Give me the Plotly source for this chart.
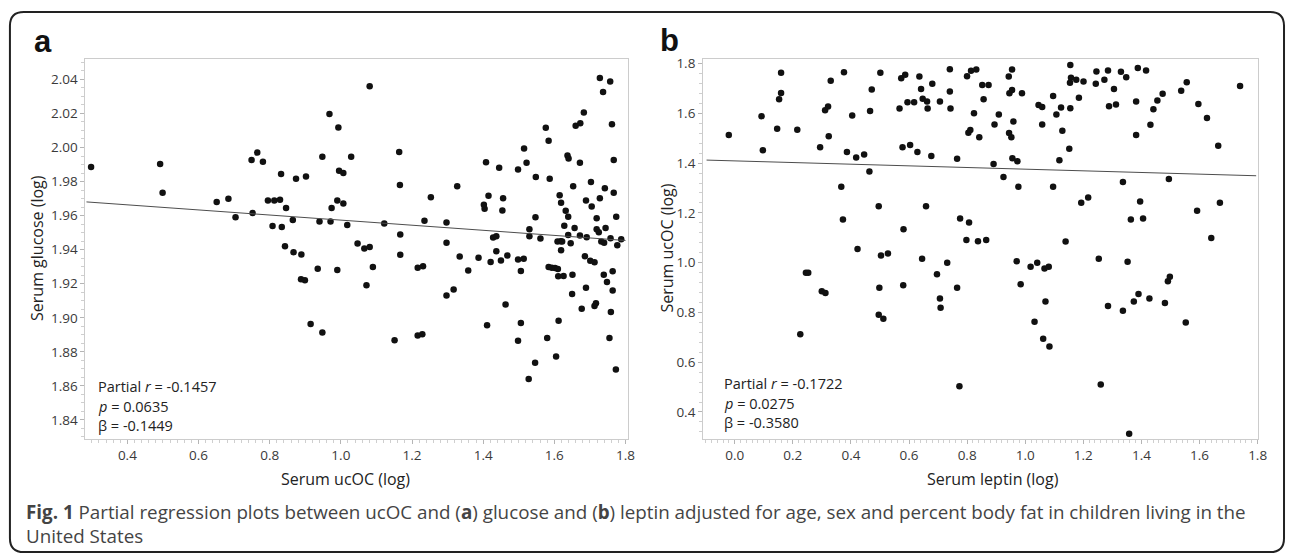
import plotly.graph_objects as go

# ---------------- data ----------------
# Panel a: Serum ucOC (log) vs Serum glucose (log)
A_X = [0.298, 0.492, 0.499, 0.651, 0.684, 0.704, 0.749, 0.765, 0.781, 0.752, 0.795, 0.813, 0.829, 0.832,
       0.846, 0.808, 0.834, 0.865, 0.874, 0.902, 0.843, 0.867, 0.889, 0.888, 0.899, 0.935, 0.990, 0.948,
       0.968, 0.993, 0.995, 1.007, 1.029, 0.990, 1.007, 0.974, 0.940, 0.971, 1.018, 1.047, 1.066, 1.081,
       1.090, 1.081, 1.122,
       1.072, 0.915, 0.948,
       1.164, 1.166, 1.167, 1.167, 1.253, 1.235, 1.216, 1.231, 1.297, 1.297, 1.327, 1.334, 1.297, 1.317,
       1.358, 1.387, 1.408, 1.415, 1.402, 1.404, 1.445, 1.456, 1.454, 1.428, 1.437, 1.437, 1.421, 1.450,
       1.468, 1.463, 1.411, 1.498, 1.515, 1.522, 1.548, 1.547, 1.530, 1.530, 1.561, 1.498, 1.514, 1.506,
       1.576, 1.584, 1.587, 1.615, 1.619, 1.632, 1.639, 1.628, 1.639, 1.618, 1.609, 1.622, 1.646, 1.619,
       1.637, 1.640, 1.653, 1.657, 1.672, 1.660, 1.673, 1.683, 1.691, 1.689, 1.703, 1.705, 1.686, 1.701,
       1.713, 1.584, 1.593, 1.602, 1.610, 1.611, 1.626, 1.651, 1.650, 1.689, 1.677, 1.713, 1.717, 1.719,
       1.725, 1.719, 1.728, 1.737, 1.757, 1.762, 1.767, 1.742, 1.728, 1.767, 1.774, 1.744, 1.758, 1.732,
       1.740, 1.777, 1.788, 1.739, 1.748, 1.764, 1.764, 1.759, 1.672, 1.612, 1.506,
       1.151, 1.216, 1.229, 1.498, 1.580, 1.546, 1.528, 1.605, 1.755, 1.773]
A_Y = [1.9885, 1.9903, 1.9735, 1.9680, 1.9699, 1.9590, 1.9926, 1.9970, 1.9916, 1.9615, 1.9689, 1.9689,
       1.9693, 1.9844, 1.9644, 1.9539, 1.9533, 1.9574, 1.9817, 1.9829, 1.9420, 1.9385, 1.9372, 1.9226,
       1.9220, 1.9288, 1.9280, 1.9945, 2.0196, 2.0118, 1.9864, 1.9850, 1.9945, 1.9689, 1.9671, 1.9644,
       1.9566, 1.9566, 1.9545, 1.9436, 1.9407, 1.9416, 1.9298, 2.0359, 1.9553,
       1.9191, 1.8964, 1.8913,
       1.9973, 1.9780, 1.9489, 1.9370, 1.9708, 1.9570, 1.9294, 1.9302, 1.9560, 1.9440, 1.9772, 1.9360,
       1.9131, 1.9166, 1.9277, 1.9352, 1.9914, 1.9716, 1.9664, 1.9640, 1.9881, 1.9702, 1.9630, 1.9471,
       1.9479, 1.9391, 1.9327, 1.9337, 1.9366, 1.9078, 1.8956, 1.9871, 1.9994, 1.9910, 1.9827, 1.9590,
       1.9520, 1.9479, 1.9465, 1.9343, 1.9347, 1.9275, 2.0116, 2.0040, 1.9817, 1.9720, 1.9675, 1.9629,
       1.9594, 1.9541, 1.9486, 1.9450, 1.9448, 1.9448, 1.9438, 1.9397, 1.9953, 1.9935, 1.9772, 1.9527,
       1.9910, 2.0128, 2.0142, 2.0206, 1.9473, 1.9689, 1.9798, 1.9654, 1.9362, 1.9335, 1.9326, 1.9298,
       1.9294, 1.9292, 1.9286, 1.9244, 1.9245, 1.9253, 1.9140, 1.9177, 1.9053, 1.9069, 1.9086, 1.9520,
       1.9502, 1.9585, 2.0408, 2.0326, 2.0387, 2.0136, 1.9926, 1.9760, 1.9702, 1.9735, 1.9594, 1.9527,
       1.9467, 1.9448, 1.9440, 1.9426, 1.9461, 1.9253, 1.9210, 1.9273, 1.9160, 1.9034, 1.9483, 1.8983,
       1.8970,
       1.8868, 1.8896, 1.8903, 1.8865, 1.8882, 1.8736, 1.8641, 1.8773, 1.8882, 1.8696]

# Panel b: Serum leptin (log) vs Serum ucOC (log)
B_X = [-0.0205, 0.0923, 0.0968, 0.146, 0.1527, 0.1595, 0.1595, 0.2153, 0.2939, 0.311, 0.3213, 0.3236,
       0.3304, 0.376, 0.3862, 0.4044, 0.418, 0.4454, 0.4636, 0.3668, 0.3725, 0.4956, 0.4659, 0.4716,
       0.5013, 0.5673, 0.5731, 0.5868, 0.5947, 0.6175, 0.5776, 0.6038, 0.581, 0.6288, 0.6357, 0.6414,
       0.647, 0.662, 0.664, 0.6767, 0.6801, 0.6585, 0.7064, 0.7405, 0.7405, 0.7427, 0.7655, 0.7758,
       0.8066, 0.7975, 0.8373, 0.7997, 0.8134, 0.8315, 0.8043, 0.811, 0.8236, 0.8418,
       0.852, 0.8738, 0.8567, 0.891, 0.8943, 0.9091, 0.9433, 0.9546, 0.9456, 0.9546, 0.9593, 0.9888,
       0.9444, 0.9523, 0.9558, 0.973, 0.9251, 0.9764, 1.0458, 1.0584, 1.0584, 1.096, 1.1073, 1.1233,
       1.1278, 1.1176, 1.1517, 1.096, 1.1552, 1.1575, 1.1541, 1.1757, 1.2006, 1.1552, 1.1848, 1.2451,
       1.2429, 1.2725, 1.285, 1.3055, 1.2885, 1.3124, 1.3295, 1.3477, 1.3876, 1.416, 1.3818, 1.3818,
       1.431, 1.4412, 1.4549, 1.473, 1.5369, 1.556, 1.596, 1.6257, 1.6644, 1.7396, 1.3363, 1.4945,
       1.1928, 1.2167, 1.3955, 1.3636, 1.4057, 1.5916, 1.6702, 1.6405, 0.8657, 1.139,
       0.245, 0.253, 0.2997, 0.3122, 0.2256, 0.4227, 0.5035, 0.5274, 0.4979, 0.4956, 0.5116, 0.58,
       0.6449, 0.6962, 0.7314, 0.7064, 0.7086, 0.7655, 0.7735,
       0.9706, 0.9843, 1.0185, 1.0413, 1.0663, 1.081, 1.0697, 1.0321, 1.0618, 1.0834, 1.2532, 1.3524,
       1.285, 1.3363, 1.3739, 1.3899, 1.4275, 1.4809, 1.4911, 1.4979, 1.5526, 1.26, 1.3578]
B_Y = [1.5128, 1.5886, 1.4517, 1.538, 1.6564, 1.6817, 1.7628, 1.534, 1.4637, 1.6125, 1.6273, 1.5076,
       1.731, 1.7654, 1.445, 1.5914, 1.4223, 1.4342, 1.3665, 1.3054, 1.1738, 1.2268, 1.6098, 1.6963,
       1.7628, 1.6193, 1.7414, 1.7548, 1.6444, 1.6444, 1.4637, 1.4729, 1.1339, 1.445, 1.7481, 1.6976,
       1.6592, 1.6472, 1.6193, 1.429, 1.719, 1.2268, 1.6472, 1.7773, 1.6883, 1.6193, 1.4171, 1.1777,
       1.1618, 1.0912, 1.086, 1.7494, 1.7709, 1.7761, 1.522, 1.5327, 1.6006, 1.5036,
       1.7136, 1.7136, 1.6564, 1.396, 1.5555, 1.5953, 1.7481, 1.7761, 1.6803, 1.6935, 1.5674, 1.6803,
       1.5208, 1.5036, 1.4199, 1.4079, 1.344, 1.3054, 1.6337, 1.6257, 1.5555, 1.6696, 1.5953, 1.6233,
       1.53, 1.4119, 1.4582, 1.3054, 1.7947, 1.743, 1.723, 1.735, 1.7282, 1.6205, 1.6632, 1.7681,
       1.719, 1.735, 1.7721, 1.6976, 1.6285, 1.6352, 1.7668, 1.7454, 1.7827, 1.7721, 1.6472, 1.5128,
       1.5539, 1.6165, 1.6512, 1.6791, 1.6911, 1.7254, 1.6377, 1.5818, 1.4701, 1.7095, 1.3241, 1.3361,
       1.2404, 1.2615, 1.2456, 1.1738, 1.1777, 1.2085, 1.2404, 1.0992, 1.0912, 1.0848,
       0.9596, 0.9596, 0.8854, 0.8786, 0.7123, 1.0553, 1.029, 1.0369, 0.8997, 0.7908, 0.7749, 0.9093,
       1.0154, 0.9532, 0.9994, 0.8558, 0.8188, 0.8997, 0.5036,
       1.0062, 0.9133, 0.9835, 0.9994, 0.977, 0.9835, 0.8439, 0.7629, 0.6939, 0.6632, 1.0154, 1.0034,
       0.8255, 0.8068, 0.8439, 0.8746, 0.8558, 0.8375, 0.9253, 0.9436, 0.76, 0.5104, 0.3122]

# fitted partial regression lines (intercept, slope)
LINE_A = (1.9723, -0.01495)
LINE_B = (1.409, -0.0333)

# axis ranges
A_XRANGE = [0.282, 1.806]
A_YRANGE = [1.8289, 2.0522]
B_XRANGE = [-0.109, 1.802]
B_YRANGE = [0.292, 1.820]

STATS_A = ["Partial <i>r</i> = -0.1457", "<i>p</i> = 0.0635", "β = -0.1449"]
STATS_B = ["Partial <i>r</i> = -0.1722", "<i>p</i> = 0.0275", "β = -0.3580"]

CAPTION = ("<b>Fig. 1</b> Partial regression plots between ucOC and (<b>a</b>) glucose and (<b>b</b>) "
           "leptin adjusted for age, sex and percent body fat in children living in the<br>United States")

# ---------------- layout helpers ----------------
W, H = 1295, 557


def px(x):
    return x / W


def py(y):
    return 1 - y / H


FONT = "Open Sans"
fig = go.Figure()

fig.add_trace(go.Scatter(x=A_X, y=A_Y, mode="markers", xaxis="x", yaxis="y",
                         marker=dict(size=6.5, color="#111111"), showlegend=False, hoverinfo="x+y"))
lx_a = [A_XRANGE[0] + 0.003, 1.80]
fig.add_trace(go.Scatter(x=lx_a, y=[LINE_A[0] + LINE_A[1] * v for v in lx_a], mode="lines",
                         xaxis="x", yaxis="y", line=dict(color="#4d4d4d", width=1), showlegend=False))

fig.add_trace(go.Scatter(x=B_X, y=B_Y, mode="markers", xaxis="x2", yaxis="y2",
                         marker=dict(size=6.5, color="#111111"), showlegend=False, hoverinfo="x+y"))
lx_b = [-0.097, 1.795]
fig.add_trace(go.Scatter(x=lx_b, y=[LINE_B[0] + LINE_B[1] * v for v in lx_b], mode="lines",
                         xaxis="x2", yaxis="y2", line=dict(color="#4d4d4d", width=1), showlegend=False))

common = dict(showline=True, linecolor="#cccccc", linewidth=1, mirror=True, showgrid=False,
              zeroline=False, ticks="outside", ticklen=4, tickcolor="#b5b5b5", tickwidth=1,
              tickfont=dict(family=FONT, size=13.5, color="#3a3a3a"))

fig.update_layout(
    width=W, height=H, margin=dict(l=0, r=0, t=0, b=0),
    paper_bgcolor="white", plot_bgcolor="white",
    xaxis=dict(domain=[px(86), px(632)], range=A_XRANGE, anchor="y", tick0=0.4, dtick=0.2,
               tickformat=".1f", minor=dict(dtick=0.02, ticks="outside", ticklen=3, tickcolor="#cfcfcf"),
               **common),
    yaxis=dict(domain=[py(438), py(55)], range=A_YRANGE, anchor="x", tick0=1.84, dtick=0.02,
               tickformat=".2f", minor=dict(dtick=0.005, ticks="outside", ticklen=3, tickcolor="#cfcfcf"),
               **common),
    xaxis2=dict(domain=[px(708), px(1267)], range=B_XRANGE, anchor="y2", tick0=0, dtick=0.2,
                tickformat=".1f", minor=dict(dtick=0.02, ticks="outside", ticklen=3, tickcolor="#cfcfcf"),
                **common),
    yaxis2=dict(domain=[py(438), py(55)], range=B_YRANGE, anchor="x2", tick0=0.4, dtick=0.2,
                tickformat=".1f", minor=dict(dtick=0.04, ticks="outside", ticklen=3, tickcolor="#cfcfcf"),
                **common),
)

ann = []
# panel letters
ann.append(dict(text="<b>a</b>", x=px(43), y=py(38), xref="paper", yref="paper", showarrow=False,
                font=dict(family="Liberation Sans", size=31, color="#111"), xanchor="center", yanchor="middle"))
ann.append(dict(text="<b>b</b>", x=px(674), y=py(37), xref="paper", yref="paper", showarrow=False,
                font=dict(family="Liberation Sans", size=31, color="#111"), xanchor="center", yanchor="middle"))
# axis titles
ann.append(dict(text="Serum glucose (log)", x=px(37), y=py(246), xref="paper", yref="paper", showarrow=False,
                textangle=-90, font=dict(family=FONT, size=16, color="#222"), xanchor="center", yanchor="middle"))
ann.append(dict(text="Serum ucOC (log)", x=px(672), y=py(246), xref="paper", yref="paper", showarrow=False,
                textangle=-90, font=dict(family=FONT, size=16, color="#222"), xanchor="center", yanchor="middle"))
ann.append(dict(text="Serum ucOC (log)", x=px(348), y=py(478), xref="paper", yref="paper", showarrow=False,
                font=dict(family=FONT, size=16, color="#222"), xanchor="center", yanchor="middle"))
ann.append(dict(text="Serum leptin (log)", x=px(1000), y=py(478), xref="paper", yref="paper", showarrow=False,
                font=dict(family=FONT, size=16, color="#222"), xanchor="center", yanchor="middle"))
# stats text
for i, t in enumerate(STATS_A):
    ann.append(dict(text=t, x=px(97), y=py(385 + 20 * i), xref="paper", yref="paper", showarrow=False,
                    font=dict(family=FONT, size=14.5, color="#222"), xanchor="left", yanchor="middle"))
for i, t in enumerate(STATS_B):
    ann.append(dict(text=t, x=px(727), y=py(382 + 20 * i), xref="paper", yref="paper", showarrow=False,
                    font=dict(family=FONT, size=14.5, color="#222"), xanchor="left", yanchor="middle"))
# caption
ann.append(dict(text=CAPTION, x=px(24), y=py(497), xref="paper", yref="paper", showarrow=False,
                align="left", font=dict(family=FONT, size=18.8, color="#444"), xanchor="left", yanchor="top"))
fig.update_layout(annotations=ann)

# rounded frame around the figure
x0, y0, x1, y1, r = 10, 8, 1293, 552, 14
pts = [
    f"M {px(x0 + r)} {py(y0)}", f"L {px(x1 - r)} {py(y0)}", f"Q {px(x1)} {py(y0)} {px(x1)} {py(y0 + r)}",
    f"L {px(x1)} {py(y1 - r)}", f"Q {px(x1)} {py(y1)} {px(x1 - r)} {py(y1)}",
    f"L {px(x0 + r)} {py(y1)}", f"Q {px(x0)} {py(y1)} {px(x0)} {py(y1 - r)}",
    f"L {px(x0)} {py(y0 + r)}", f"Q {px(x0)} {py(y0)} {px(x0 + r)} {py(y0)}", "Z",
]
fig.add_shape(type="path", path=" ".join(pts), xref="paper", yref="paper",
              line=dict(color="#222222", width=2), fillcolor="rgba(0,0,0,0)")

fig.write_html("out.html", config={"displayModeBar": False},
               post_script="document.body.style.margin='0';document.body.style.overflow='hidden';")
